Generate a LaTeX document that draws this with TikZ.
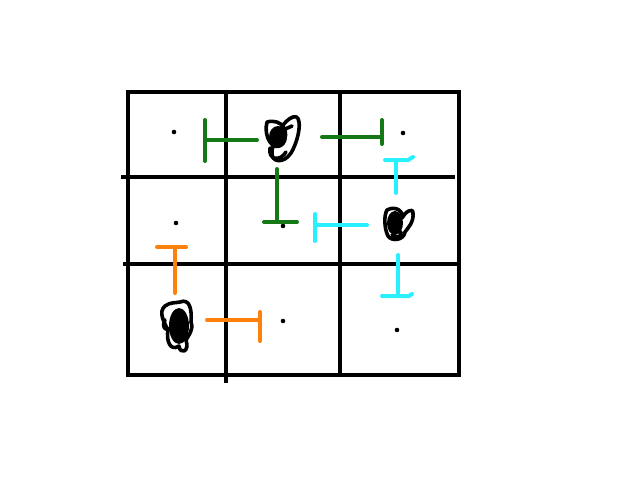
\documentclass[tikz,border=0pt]{standalone}
\begin{document}
\begin{tikzpicture}[x=1pt,y=-1pt,
  gridline/.style={line width=3.3pt,black},
  inh/.style={line width=4pt,line cap=round},
  scrib/.style={line width=3.6pt,black,line join=round,line cap=round},
  dotmark/.style={black}]
\definecolor{ggreen}{RGB}{20,120,20}
\definecolor{ccyan}{RGB}{40,240,255}
\definecolor{oorange}{RGB}{255,128,10}
\useasboundingbox (0,0) rectangle (640,480);
% grid
\coordinate (TL) at (128,92); \coordinate (BR) at (459,375);
\draw[gridline] (TL) rectangle (BR);
\coordinate (v1a) at (226,92); \coordinate (v1b) at (226,383);
\coordinate (v2a) at (340,90); \coordinate (v2b) at (340,375);
\coordinate (h1a) at (121,177); \coordinate (h1b) at (455,177);
\coordinate (h2a) at (123,264); \coordinate (h2b) at (459,264);
\draw[gridline] (v1a) -- (v1b);
\draw[gridline] (v2a) -- (v2b);
\draw[gridline] (h1a) -- (h1b);
\draw[gridline] (h2a) -- (h2b);
% dots
\fill[dotmark] (174,132) circle[radius=2.3pt];
\fill[dotmark] (403,133) circle[radius=2.3pt];
\fill[dotmark] (176,223) circle[radius=2.3pt];
\fill[dotmark] (283,226) circle[radius=2.3pt];
\fill[dotmark] (283,321) circle[radius=2.3pt];
\fill[dotmark] (397,330) circle[radius=2.3pt];
% green inhibitions
\draw[inh,ggreen] (257,140) -- (205,140);
\draw[inh,ggreen] (205,120) -- (205,161);
\draw[inh,ggreen] (322,137) -- (382,137);
\draw[inh,ggreen] (382,120) -- (382,144);
\draw[inh,ggreen] (277,169) -- (277,222);
\draw[inh,ggreen] (264,222) -- (297,222);
% cyan inhibitions
\draw[inh,ccyan] (396,193) -- (396,160);
\draw[inh,ccyan] (385,160) -- (408,160) -- (413,157);
\draw[inh,ccyan] (367,225) -- (315,225);
\draw[inh,ccyan] (315,214) -- (315,241);
\draw[inh,ccyan] (398,255) -- (398,295);
\draw[inh,ccyan] (382,296) -- (409,296) -- (412,294);
% orange inhibitions
\draw[inh,oorange] (175,293) -- (175,247);
\draw[inh,oorange] (157,247) -- (186,247);
\draw[inh,oorange] (207,320) -- (260,320);
\draw[inh,oorange] (260,312) -- (260,341);
% scribble 1
\draw[scrib] (293,117) .. controls (303,113) and (300,138) .. (291,153)
  .. controls (284,164) and (270,163) .. (272,151)
  .. controls (274,136) and (284,120) .. (293,117) -- cycle;
\draw[scrib] (267,122) .. controls (282,118) and (291,132) .. (282,144)
  .. controls (273,153) and (263,136) .. (267,122);
\fill[black] (278,137) ellipse[x radius=9pt,y radius=11pt];
\draw[scrib] (270,148) .. controls (268,160) and (280,162) .. (286,152);
\draw[scrib] (283,130) -- (292,126);
% scribble 2
\draw[scrib] (387,210) .. controls (396,205) and (404,212) .. (402,218)
  .. controls (405,212) and (413,207) .. (413,213)
  .. controls (414,222) and (408,228) .. (405,232)
  .. controls (404,240) and (392,242) .. (388,236)
  .. controls (384,228) and (384,215) .. (387,210) -- cycle;
\fill[black] (395,223) ellipse[x radius=8pt,y radius=12pt];
\draw[scrib] (392,235) .. controls (396,239) and (402,237) .. (401,232);
% scribble 3
\draw[scrib] (180,302) .. controls (190,298) and (192,310) .. (191,322)
  .. controls (194,330) and (188,336) .. (186,340)
  .. controls (190,352) and (180,355) .. (179,346)
  .. controls (170,352) and (166,340) .. (168,330)
  .. controls (164,322) and (158,312) .. (165,306)
  .. controls (170,302) and (176,303) .. (180,302) -- cycle;
\fill[black] (179,326) ellipse[x radius=10pt,y radius=18pt];
\draw[scrib] (165,320) .. controls (160,330) and (170,332) .. (172,326);
\end{tikzpicture}
\end{document}
